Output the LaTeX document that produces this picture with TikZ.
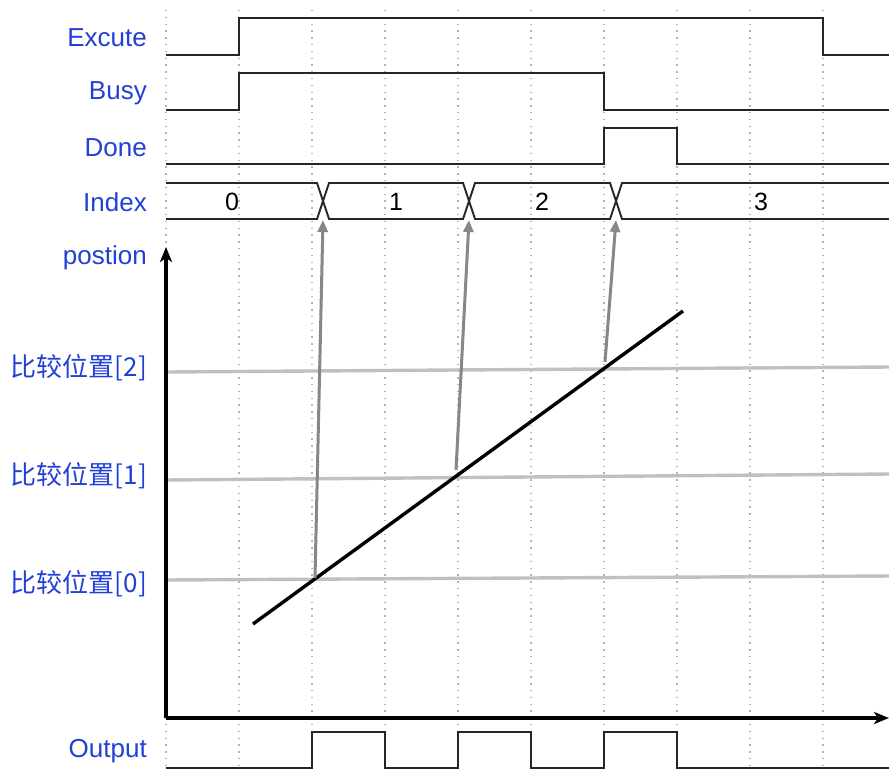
\documentclass[tikz,border=0pt]{standalone}
\usepackage{fontspec}
\setmainfont{Liberation Sans}
\newfontfamily\cjk{Noto Sans CJK SC}
\usetikzlibrary{arrows.meta}
\definecolor{lbl}{RGB}{34,64,214}
\definecolor{gridc}{RGB}{180,180,180}
\definecolor{refc}{RGB}{192,192,192}
\definecolor{linkc}{RGB}{135,135,135}
\tikzset{
  sig/.style={line width=1.9pt, black!85, line join=miter},
  gridline/.style={gridc, line width=1.1pt, dash pattern=on 1.3pt off 5.5pt},
  lab/.style={anchor=east, text=lbl, inner sep=0pt, font=\fontsize{26}{30}\selectfont},
  val/.style={inner sep=0pt, font=\fontsize{25}{30}\selectfont},
  refline/.style={refc, line width=3.4pt},
  link/.style={linkc, line width=3pt, -{Triangle[length=12pt,width=10pt]}},
  axis/.style={black, line width=3.6pt, -{Stealth[length=15pt,width=12pt,inset=4pt]}},
}
\begin{document}
\begin{tikzpicture}[x=1pt,y=-1pt]
\useasboundingbox (0,0) rectangle (889,769);
\fill[white] (0,0) rectangle (889,769);

% time grid
\foreach \k in {0,...,9}{
  \draw[gridline] (166+73*\k,10) -- (166+73*\k,769);
}

% signal names
\node[lab] (lexe) at (147,38) {Excute};
\node[lab] (lbusy) at (147,93) {Busy};
\node[lab] (ldone) at (147,148) {Done};
\node[lab] (lidx) at (147,202) {Index};
\node[lab] (lpos) at (147,258) {postion};
\node[lab] (lc2) at (147,368) {\cjk 比较位置[2]};
\node[lab] (lc1) at (147,476) {\cjk 比较位置[1]};
\node[lab] (lc0) at (147,584) {\cjk 比较位置[0]};
\node[lab] (lout) at (147,751) {Output};

% digital waveforms
\draw[sig] (166,55) -- (239,55) -- (239,18) -- (823,18) -- (823,55) -- (889,55);
\draw[sig] (166,110) -- (239,110) -- (239,73) -- (604,73) -- (604,110) -- (889,110);
\draw[sig] (166,164) -- (604,164) -- (604,128) -- (677,128) -- (677,164) -- (889,164);
\draw[sig] (166,768) -- (312,768) -- (312,732) -- (385,732) -- (385,768)
  -- (458,768) -- (458,732) -- (531,732) -- (531,768)
  -- (604,768) -- (604,732) -- (677,732) -- (677,768) -- (889,768);

% index bus with transitions
\draw[sig] (166,183) -- (317,183) -- (329,219) -- (463,219) -- (475,183)
  -- (610,183) -- (622,219) -- (889,219);
\draw[sig] (166,219) -- (317,219) -- (329,183) -- (463,183) -- (475,219)
  -- (610,219) -- (622,183) -- (889,183);
\node[val] (v0) at (232,202) {0};
\node[val] (v1) at (396,202) {1};
\node[val] (v2) at (542,202) {2};
\node[val] (v3) at (761,202) {3};
\coordinate (x0) at (323,220);
\coordinate (x1) at (469,220);
\coordinate (x2) at (616,220);

% compare positions
\draw[refline] (166,372) -- (889,367);
\draw[refline] (166,480) -- (889,474);
\draw[refline] (166,580) -- (889,576);

% position ramp
\coordinate (r0) at (253,624);
\coordinate (r1) at (683,311);
\draw[black, line width=3.4pt] (r0) -- (r1);

% hit points on the ramp
\coordinate (h0) at (315,578);
\coordinate (h1) at (456,470);
\coordinate (h2) at (605,362);
\draw[link] (h0) -- (x0);
\draw[link] (h1) -- (x1);
\draw[link] (h2) -- (x2);

% axes
\coordinate (o) at (166,718);
\coordinate (ytip) at (166,247);
\coordinate (xtip) at (889,718);
\draw[axis] (o) -- (ytip);
\draw[axis] (o) -- (xtip);
\end{tikzpicture}
\end{document}
